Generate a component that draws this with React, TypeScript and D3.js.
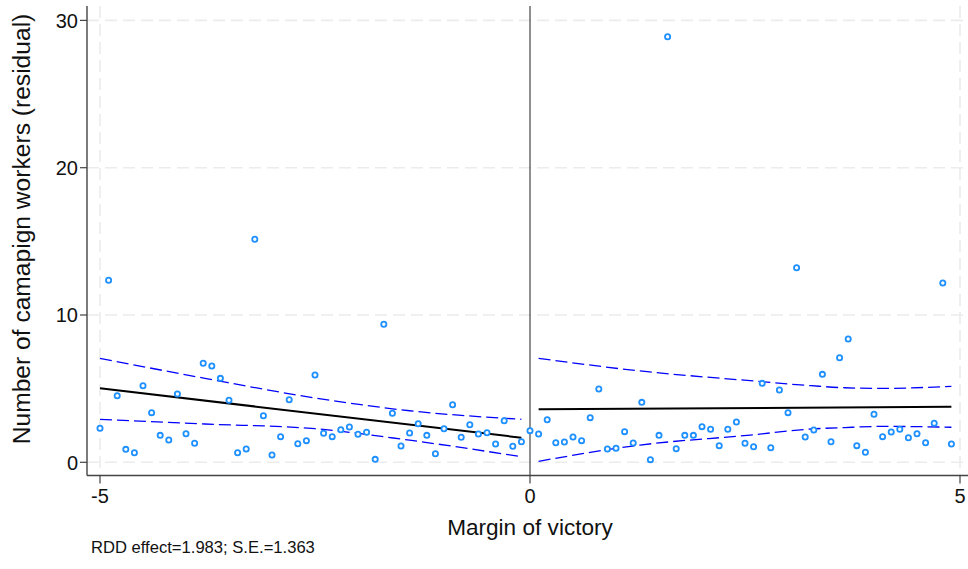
import React from "react";
import * as d3 from "d3";

// ---- data ----
const leftX = [-5.0, -4.9, -4.8, -4.7, -4.6, -4.5, -4.4, -4.3, -4.2, -4.1, -4.0, -3.9, -3.8, -3.7, -3.6, -3.5, -3.4, -3.3, -3.2, -3.1, -3.0, -2.9, -2.8, -2.7, -2.6, -2.5, -2.4, -2.3, -2.2, -2.1, -2.0, -1.9, -1.8, -1.7, -1.6, -1.5, -1.4, -1.3, -1.2, -1.1, -1.0, -0.9, -0.8, -0.7, -0.6, -0.5, -0.4, -0.3, -0.2, -0.1];
const leftY = [2.31, 12.36, 4.52, 0.88, 0.65, 5.20, 3.37, 1.83, 1.51, 4.64, 1.94, 1.29, 6.72, 6.54, 5.70, 4.21, 0.65, 0.90, 15.14, 3.16, 0.50, 1.74, 4.25, 1.26, 1.47, 5.93, 1.97, 1.74, 2.21, 2.40, 1.90, 2.04, 0.20, 9.37, 3.33, 1.11, 1.99, 2.62, 1.83, 0.58, 2.28, 3.91, 1.70, 2.55, 1.92, 2.01, 1.24, 2.82, 1.09, 1.40];
const rightX = [0.0, 0.1, 0.2, 0.3, 0.4, 0.5, 0.6, 0.7, 0.8, 0.9, 1.0, 1.1, 1.2, 1.3, 1.4, 1.5, 1.6, 1.7, 1.8, 1.9, 2.0, 2.1, 2.2, 2.3, 2.4, 2.5, 2.6, 2.7, 2.8, 2.9, 3.0, 3.1, 3.2, 3.3, 3.4, 3.5, 3.6, 3.7, 3.8, 3.9, 4.0, 4.1, 4.2, 4.3, 4.4, 4.5, 4.6, 4.7, 4.8, 4.9];
const rightY = [2.15, 1.92, 2.89, 1.33, 1.38, 1.72, 1.47, 3.03, 4.98, 0.90, 0.95, 2.08, 1.31, 4.07, 0.18, 1.83, 28.89, 0.92, 1.83, 1.83, 2.42, 2.24, 1.13, 2.24, 2.74, 1.29, 1.06, 5.36, 0.99, 4.91, 3.37, 13.21, 1.72, 2.19, 5.97, 1.40, 7.10, 8.37, 1.13, 0.68, 3.26, 1.74, 2.06, 2.24, 1.67, 1.94, 1.33, 2.65, 12.17, 1.24];

const fitLeftX = [-5.0, -0.1];
const fitLeftY = [5.02, 1.67];
const fitRightX = [0.1, 4.9];
const fitRightY = [3.60, 3.77];

const ciLeftX = [-5.0, -3.78, -2.5, -1.4, -0.1];
const ciLeftUpper = [7.06, 5.70, 4.37, 3.50, 2.92];
const ciLeftLower = [2.92, 2.60, 2.28, 1.50, 0.38];
const ciRightX = [0.1, 1.28, 2.56, 3.27, 3.66, 4.12, 4.9];
const ciRightUpper = [7.06, 6.20, 5.54, 5.20, 5.06, 5.02, 5.16];
const ciRightLower = [0.07, 1.17, 1.85, 2.26, 2.36, 2.44, 2.38];

const xTicks = [-5, 0, 5];
const yTicks = [0, 10, 20, 30];
const xGrid = [-5, 5];

const xTitle = "Margin of victory";
const yTitle = "Number of camapign workers (residual)";
const note = "RDD effect=1.983; S.E.=1.363";

// ---- layout ----
const W = 968, H = 569;
const plotL = 87, plotR = 968, plotT = 6, plotB = 475.5;
const FONT = "'Liberation Sans', Arial, Helvetica, sans-serif";

export default function App() {
  const x = d3.scaleLinear().domain([-5, 5]).range([100, 960]);
  const y = d3.scaleLinear().domain([0, 30]).range([462.3, 20.4]);

  const straight = d3.line<[number, number]>().x(d => x(d[0])).y(d => y(d[1]));
  const smooth = d3.line<[number, number]>().x(d => x(d[0])).y(d => y(d[1])).curve(d3.curveMonotoneX);
  const zip = (a: number[], b: number[]) => a.map((v, i) => [v, b[i]] as [number, number]);

  const pts = [...zip(leftX, leftY), ...zip(rightX, rightY)];

  return (
    <svg width={W} height={H} style={{ position: "absolute", left: 0, top: 0, background: "#fff" }} fontFamily={FONT}>
      <rect x={0} y={0} width={W} height={H} fill="#fff" />
      {/* grid */}
      {yTicks.map(t => (
        <line key={"gy" + t} x1={plotL} x2={plotR} y1={y(t)} y2={y(t)} stroke="#ececec" strokeWidth={1.6} strokeDasharray="12,6" />
      ))}
      {xGrid.map(t => (
        <line key={"gx" + t} x1={x(t)} x2={x(t)} y1={plotT} y2={plotB} stroke="#ececec" strokeWidth={1.6} strokeDasharray="12,6" />
      ))}
      {/* cutoff line */}
      <line x1={x(0)} x2={x(0)} y1={plotT} y2={plotB} stroke="#333" strokeWidth={1.1} />
      {/* CI */}
      <path d={smooth(zip(ciLeftX, ciLeftUpper)) || ""} fill="none" stroke="#0000ff" strokeWidth={1.3} strokeDasharray="12,5" />
      <path d={smooth(zip(ciLeftX, ciLeftLower)) || ""} fill="none" stroke="#0000ff" strokeWidth={1.3} strokeDasharray="12,5" />
      <path d={smooth(zip(ciRightX, ciRightUpper)) || ""} fill="none" stroke="#0000ff" strokeWidth={1.3} strokeDasharray="12,5" />
      <path d={smooth(zip(ciRightX, ciRightLower)) || ""} fill="none" stroke="#0000ff" strokeWidth={1.3} strokeDasharray="12,5" />
      {/* fits */}
      <path d={straight(zip(fitLeftX, fitLeftY)) || ""} fill="none" stroke="#000" strokeWidth={2} />
      <path d={straight(zip(fitRightX, fitRightY)) || ""} fill="none" stroke="#000" strokeWidth={2} />
      {/* points */}
      {pts.map((p, i) => (
        <circle key={"p" + i} cx={x(p[0])} cy={y(p[1])} r={2.6} fill="#fff" stroke="#1e90ff" strokeWidth={1.8} />
      ))}
      {/* axes */}
      <line x1={plotL} x2={plotL} y1={plotT} y2={plotB} stroke="#444" strokeWidth={1.4} />
      <line x1={plotL} x2={plotR} y1={plotB} y2={plotB} stroke="#444" strokeWidth={1.4} />
      {yTicks.map(t => (
        <g key={"ty" + t}>
          <line x1={plotL - 7} x2={plotL} y1={y(t)} y2={y(t)} stroke="#444" strokeWidth={1.2} />
          <text x={plotL - 9} y={y(t)} dy="0.36em" textAnchor="end" fontSize={20} fill="#111">{t}</text>
        </g>
      ))}
      {xTicks.map(t => (
        <g key={"tx" + t}>
          <line x1={x(t)} x2={x(t)} y1={plotB} y2={plotB + 8} stroke="#444" strokeWidth={1.2} />
          <text x={x(t)} y={503} textAnchor="middle" fontSize={20} fill="#111">{t}</text>
        </g>
      ))}
      <text x={530} y={535} textAnchor="middle" fontSize={22.6} fill="#111">{xTitle}</text>
      <text transform={`translate(29.5,229) rotate(-90)`} textAnchor="middle" fontSize={24.6} fill="#111">{yTitle}</text>
      <text x={91} y={553} fontSize={16.6} fill="#111">{note}</text>
    </svg>
  );
}
